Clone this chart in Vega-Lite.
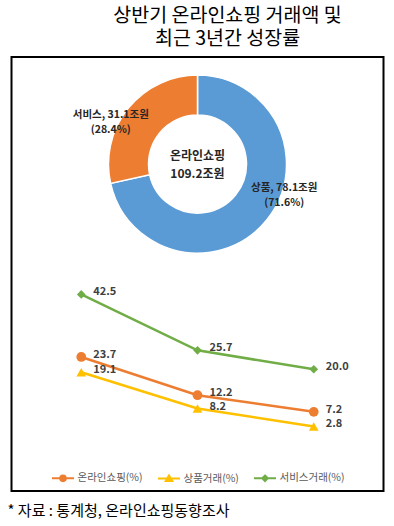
{
  "$schema": "https://vega.github.io/schema/vega-lite/v6.json",
  "padding": {"left": 7.5, "top": 5, "right": 5, "bottom": 5},
  "background": "white",
  "datasets": {
    "share": [
      {"cat": "상품", "amount": 78.1, "label": "상품, 78.1조원\n(71.6%)"},
      {"cat": "서비스", "amount": 31.1, "label": "서비스, 31.1조원\n(28.4%)"}
    ],
    "total": [{"name": "온라인쇼핑\n109.2조원"}],
    "growth": [
      {"period": "21.上", "series": "온라인쇼핑(%)", "value": 23.7},
      {"period": "22.上", "series": "온라인쇼핑(%)", "value": 12.2},
      {"period": "23.上", "series": "온라인쇼핑(%)", "value": 7.2},
      {"period": "21.上", "series": "상품거래(%)", "value": 19.1},
      {"period": "22.上", "series": "상품거래(%)", "value": 8.2},
      {"period": "23.上", "series": "상품거래(%)", "value": 2.8},
      {"period": "21.上", "series": "서비스거래(%)", "value": 42.5},
      {"period": "22.上", "series": "서비스거래(%)", "value": 25.7},
      {"period": "23.上", "series": "서비스거래(%)", "value": 20.0}
    ]
  },
  "title": {"text": "* 자료 : 통계청, 온라인쇼핑동향조사", "orient": "bottom", "anchor": "start", "fontSize": 15, "fontWeight": "normal", "color": "#000000", "offset": 12, "dx": -3},
  "vconcat": [
    {
      "width": 372,
      "height": 434,
      "title": {"text": ["상반기 온라인쇼핑 거래액 및", "최근 3년간 성장률"], "fontSize": 19.5, "lineHeight": 22.5, "fontWeight": "normal", "anchor": "middle", "dx": 30, "offset": 8, "color": "#000000"},
      "layer": [
        {
          "data": {"name": "share"},
          "mark": {"type": "arc", "innerRadius": 49, "outerRadius": 89, "stroke": "#ffffff", "strokeWidth": 1.5},
          "encoding": {
            "x": {"datum": "22.上", "type": "ordinal", "axis": null},
            "y": {"datum": 81.7, "type": "quantitative", "axis": null},
            "theta": {"field": "amount", "type": "quantitative", "stack": true},
            "fill": {"field": "cat", "type": "nominal", "scale": {"domain": ["상품", "서비스"], "range": ["#5B9BD5", "#ED7D31"]}, "legend": null}
          }
        },
        {
          "data": {"name": "share"},
          "mark": {"type": "text", "radius": 94, "fontSize": 10.5, "fontWeight": "bold", "color": "#262626", "lineBreak": "\n", "lineHeight": 15, "align": "center", "baseline": "middle", "dy": -12.5},
          "encoding": {
            "x": {"datum": "22.上", "type": "ordinal", "axis": null},
            "y": {"datum": 81.7, "type": "quantitative", "axis": null},
            "theta": {"field": "amount", "type": "quantitative", "stack": true, "scale": {"range": [-0.28, 6.0032]}},
            "detail": {"field": "cat", "type": "nominal"},
            "text": {"field": "label", "type": "nominal"}
          }
        },
        {
          "data": {"name": "total"},
          "mark": {"type": "text", "fontSize": 12, "fontWeight": "bold", "color": "#262626", "lineBreak": "\n", "lineHeight": 18, "dy": -8, "align": "center", "baseline": "middle"},
          "encoding": {
            "x": {"datum": "22.上", "type": "ordinal", "axis": null},
            "y": {"datum": 81.7, "type": "quantitative", "axis": null},
            "text": {"field": "name", "type": "nominal"}
          }
        },
        {
          "data": {"name": "growth"},
          "mark": {"type": "line", "strokeWidth": 2.5},
          "encoding": {
            "x": {"field": "period", "type": "ordinal", "scale": {"type": "point", "padding": 0.6},
                  "axis": {"title": null, "offset": -55.2, "domainColor": "#d9d9d9", "domainWidth": 1, "ticks": false, "labelColor": "#595959", "labelFontSize": 11.5, "labelPadding": 16, "labelAngle": 0, "grid": false}},
            "y": {"field": "value", "type": "quantitative", "scale": {"domain": [-16.6, 113.9], "nice": false, "zero": false}, "axis": null},
            "color": {"field": "series", "type": "nominal",
                      "scale": {"domain": ["온라인쇼핑(%)", "상품거래(%)", "서비스거래(%)"], "range": ["#ED7D31", "#FFC000", "#70AD47"]},
                      "legend": {"title": null, "orient": "none", "legendX": 43, "legendY": 412.5, "direction": "horizontal", "labelFontSize": 10.5, "labelColor": "#595959", "symbolSize": 215, "labelOffset": 6, "columnPadding": 10, "symbolStrokeWidth": 2, "padding": 0,
                                 "symbolType": "M-1.5,0H1.5M0.38,0A0.38,0.38,0,1,1,-0.38,0A0.38,0.38,0,1,1,0.38,0",
                                 "encode": {"symbols": {"update": {
                                   "shape": {"signal": "datum.value === '온라인쇼핑(%)' ? 'M-1.5,0H1.5M0.38,0A0.38,0.38,0,1,1,-0.38,0A0.38,0.38,0,1,1,0.38,0' : datum.value === '상품거래(%)' ? 'M-1.5,0H1.5M0,-0.42L0.45,0.34L-0.45,0.34Z' : 'M-1.5,0H1.5M0,-0.38L0.38,0L0,0.38L-0.38,0Z'"},
                                   "stroke": {"signal": "scale('color', datum.value)"},
                                   "fill": {"signal": "scale('color', datum.value)"},
                                   "strokeWidth": {"value": 2}
                                 }}}}}
          }
        },
        {
          "data": {"name": "growth"},
          "transform": [{"filter": "datum.series === '온라인쇼핑(%)'"}],
          "mark": {"type": "point", "filled": true, "opacity": 1, "size": 95, "shape": "circle"},
          "encoding": {
            "x": {"field": "period", "type": "ordinal"},
            "y": {"field": "value", "type": "quantitative", "axis": null},
            "color": {"field": "series", "type": "nominal"}
          }
        },
        {
          "data": {"name": "growth"},
          "transform": [{"filter": "datum.series === '상품거래(%)'"}],
          "mark": {"type": "point", "filled": true, "opacity": 1, "size": 95, "shape": "triangle-up"},
          "encoding": {
            "x": {"field": "period", "type": "ordinal"},
            "y": {"field": "value", "type": "quantitative", "axis": null},
            "color": {"field": "series", "type": "nominal"}
          }
        },
        {
          "data": {"name": "growth"},
          "transform": [{"filter": "datum.series === '서비스거래(%)'"}],
          "mark": {"type": "point", "filled": true, "opacity": 1, "size": 75, "shape": "diamond"},
          "encoding": {
            "x": {"field": "period", "type": "ordinal"},
            "y": {"field": "value", "type": "quantitative", "axis": null},
            "color": {"field": "series", "type": "nominal"}
          }
        },
        {
          "data": {"name": "growth"},
          "mark": {"type": "text", "align": "left", "baseline": "middle", "dx": 12, "dy": -2, "fontSize": 11, "fontWeight": "bold", "color": "#404040"},
          "encoding": {
            "x": {"field": "period", "type": "ordinal"},
            "y": {"field": "value", "type": "quantitative", "axis": null},
            "text": {"field": "value", "type": "quantitative", "format": ".1f"}
          }
        }
      ],
      "resolve": {"scale": {"theta": "independent"}}
    }
  ],
  "config": {
    "font": "Noto Sans CJK KR",
    "view": {"stroke": "#000000", "strokeWidth": 2},
    "concat": {"spacing": 0}
  }
}
